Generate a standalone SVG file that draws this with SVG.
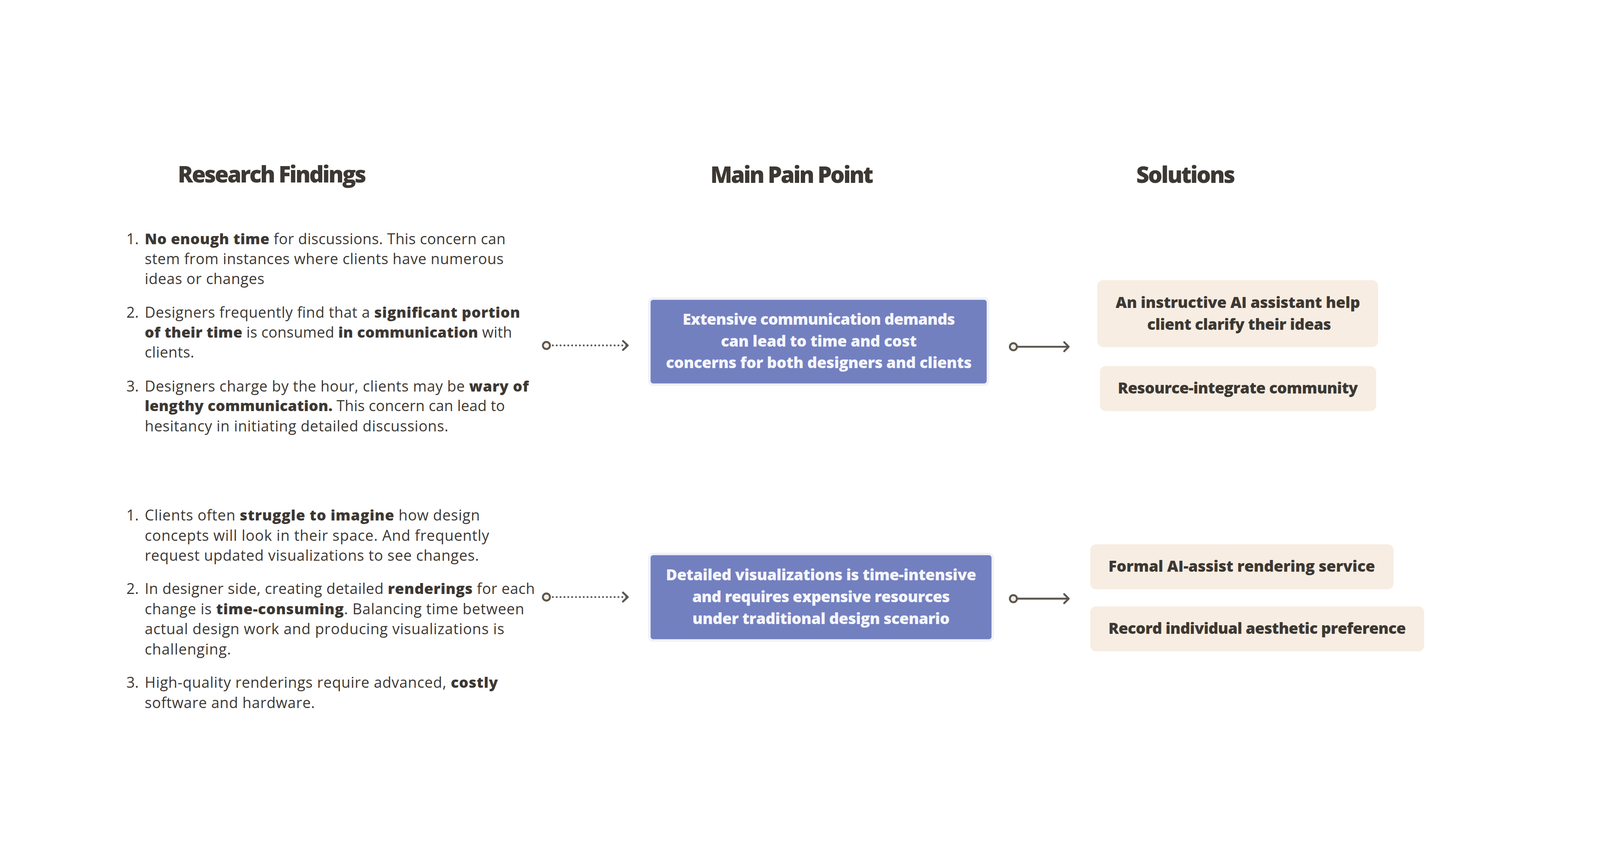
<svg xmlns="http://www.w3.org/2000/svg" width="4975" height="2188" viewBox="0 0 4975 2188">
<style>
  @media (max-width: 4900px) { svg { width: 100vw; height: 100vh; } }
  text { font-family: "Open Sans", "Noto Sans", "Liberation Sans", sans-serif; fill: #3D3833; }
  .h { font-size: 70px; font-weight: 800; }
  .body { font-size: 46px; font-weight: 400; }
  .b { font-weight: 800; }
  .pain { fill: #7380C0; stroke: #F1F2F9; stroke-width: 8; }
  .painText { font-size: 48px; font-weight: 800; fill: #F4F5FB; text-anchor: middle; }
  .sol { fill: #F7EDE2; }
  .solText { font-size: 48px; font-weight: 800; text-anchor: middle; }
  .conn { stroke: #5B5651; stroke-width: 6; fill: none; stroke-linecap: round; stroke-linejoin: round; }
  .dotted { stroke-dasharray: 0 12; }
  .dot { fill: #F8EEE2; stroke: #5B5651; stroke-width: 6; }
</style>
<rect width="4975" height="2188" fill="#FFFFFF"/>

<g id="headings">
  <text class="h" x="553" y="333" textLength="586">Research Findings</text>
  <text class="h" x="2209" y="334" textLength="507">Main Pain Point</text>
  <text class="h" x="3533" y="334" textLength="308">Solutions</text>
</g>

<g id="findings-top">
  <text class="body" x="393" y="524">1.</text>
  <text class="body" x="450" y="524" textLength="1122"><tspan class="b">No enough time</tspan> for discussions. This concern can</text>
  <text class="body" x="450" y="586" textLength="1116">stem from instances where clients have numerous</text>
  <text class="body" x="450" y="648" textLength="372">ideas or changes</text>

  <text class="body" x="393" y="753">2.</text>
  <text class="body" x="450" y="753" textLength="1167">Designers frequently find that a <tspan class="b">significant portion</tspan></text>
  <text class="body" x="450" y="815" textLength="1142"><tspan class="b">of their time</tspan> is consumed <tspan class="b">in communication</tspan> with</text>
  <text class="body" x="450" y="877" textLength="154">clients.</text>

  <text class="body" x="393" y="982">3.</text>
  <text class="body" x="450" y="982" textLength="1194">Designers charge by the hour, clients may be <tspan class="b">wary of</tspan></text>
  <text class="body" x="450" y="1043" textLength="1120"><tspan class="b">lengthy communication.</tspan> This concern can lead to</text>
  <text class="body" x="450" y="1106" textLength="944">hesitancy in initiating detailed discussions.</text>
</g>

<g id="findings-bottom">
  <text class="body" x="393" y="1383">1.</text>
  <text class="body" x="450" y="1383" textLength="1042">Clients often <tspan class="b">struggle to imagine</tspan> how design</text>
  <text class="body" x="450" y="1446" textLength="1071">concepts will look in their space. And frequently</text>
  <text class="body" x="450" y="1508" textLength="1039">request updated visualizations to see changes.</text>

  <text class="body" x="393" y="1612">2.</text>
  <text class="body" x="450" y="1612" textLength="1213">In designer side, creating detailed <tspan class="b">renderings</tspan> for each</text>
  <text class="body" x="450" y="1675" textLength="1180">change is <tspan class="b">time-consuming</tspan>. Balancing time between</text>
  <text class="body" x="450" y="1737" textLength="1118">actual design work and producing visualizations is</text>
  <text class="body" x="450" y="1800" textLength="268">challenging.</text>

  <text class="body" x="393" y="1903">3.</text>
  <text class="body" x="450" y="1903" textLength="1098">High-quality renderings require advanced, <tspan class="b">costly</tspan></text>
  <text class="body" x="450" y="1966" textLength="529">software and hardware.</text>
</g>

<g id="pain-1">
  <rect class="pain" x="2019" y="693" width="1053" height="268" rx="12"/>
  <text class="painText" x="2546" y="775" textLength="847">Extensive communication demands</text>
  <text class="painText" x="2546" y="843" textLength="609">can lead to time and cost</text>
  <text class="painText" x="2546" y="910" textLength="951">concerns for both designers and clients</text>
</g>

<g id="pain-2">
  <rect class="pain" x="2019" y="1487" width="1068" height="269" rx="12"/>
  <text class="painText" x="2553" y="1569" textLength="965">Detailed visualizations is time-intensive</text>
  <text class="painText" x="2553" y="1637" textLength="801">and requires expensive resources</text>
  <text class="painText" x="2553" y="1705" textLength="800">under traditional design scenario</text>
</g>

<g id="solution-1">
  <rect class="sol" x="3412" y="636" width="873" height="208" rx="18"/>
  <text class="solText" x="3849" y="722" textLength="760">An instructive AI assistant help</text>
  <text class="solText" x="3853" y="790" textLength="572">client clarify their ideas</text>
</g>

<g id="solution-2">
  <rect class="sol" x="3420" y="903" width="859" height="140" rx="18"/>
  <text class="solText" x="3849" y="988" textLength="747">Resource-integrate community</text>
</g>

<g id="solution-3">
  <rect class="sol" x="3390" y="1457" width="943" height="140" rx="18"/>
  <text class="solText" x="3861" y="1542" textLength="829">Formal AI-assist rendering service</text>
</g>

<g id="solution-4">
  <rect class="sol" x="3390" y="1650" width="1038" height="140" rx="18"/>
  <text class="solText" x="3909" y="1735" textLength="925">Record individual aesthetic preference</text>
</g>

<g id="connectors">
  <line class="conn dotted" x1="1719" y1="839" x2="1950" y2="839"/>
  <path class="conn" d="M1937,825 L1952,839 L1937,853"/>
  <circle class="dot" cx="1699" cy="839" r="11"/>

  <line class="conn" x1="3162" y1="843" x2="3322" y2="843"/>
  <path class="conn" d="M3309,829 L3323,843 L3309,857"/>
  <circle class="dot" cx="3151" cy="843" r="11"/>

  <line class="conn dotted" x1="1719" y1="1621" x2="1950" y2="1621"/>
  <path class="conn" d="M1937,1607 L1952,1621 L1937,1635"/>
  <circle class="dot" cx="1699" cy="1621" r="11"/>

  <line class="conn" x1="3162" y1="1626" x2="3322" y2="1626"/>
  <path class="conn" d="M3309,1612 L3323,1626 L3309,1640"/>
  <circle class="dot" cx="3151" cy="1626" r="11"/>
</g>
</svg>
